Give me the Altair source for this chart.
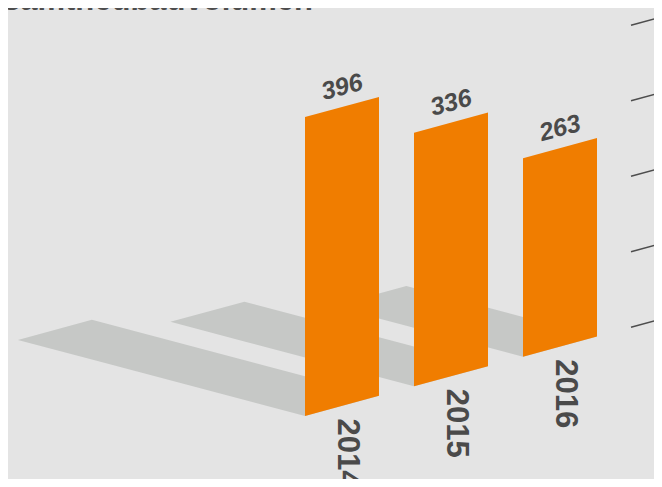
import altair as alt
import numpy as np
import pandas as pd

# ---- data ----
years = ["2014", "2015", "2016"]
values = [396, 336, 263]
ticks = [0, 100, 200, 300, 400]
title_text = "Gesamtneubauvolumen"

# ---- perspective geometry (screen pixel space) ----
X0, Y0 = 305, 416      # bottom-left corner of the first bar
STEP = 109             # horizontal distance between bars
SKEW = 0.272           # rise per px along baseline / bar faces
BAR_W = 74
K = 0.755              # px of height per unit
SH_LEN = 0.725         # horizontal shadow length per unit
SH_SLOPE = 0.265       # shadow direction slope
TICK_X = 631
TICK_LEN = 31

ORANGE = "#f07d00"
SHADOW = "#c6c8c6"
TEXT = "#4a4a4a"
BG = "#e4e4e4"
FONT = "Liberation Sans"

bar_rows, sh_rows, val_rows, yr_rows = [], [], [], []
for i, (yr, v) in enumerate(zip(years, values)):
    xl = X0 + STEP * i
    yl = Y0 - SKEW * STEP * i
    xr = xl + BAR_W
    yr_ = yl - SKEW * BAR_W
    h = K * v
    bar_rows += [dict(bar=yr, x=xl, y=yl, y2=yl - h), dict(bar=yr, x=xr, y=yr_, y2=yr_ - h)]
    # shadow parallelogram
    L = SH_LEN * v
    A = (xl - L, yl - SH_SLOPE * L)
    B = (A[0] + BAR_W, A[1] - SKEW * BAR_W)
    C = (xr, yr_)
    D = (xl, yl)
    xs = sorted([A[0], B[0], C[0], D[0]])
    for xv in xs:
        up = np.interp(xv, [A[0], B[0], C[0]], [A[1], B[1], C[1]])
        lo = np.interp(xv, [A[0], D[0], C[0]], [A[1], D[1], C[1]])
        sh_rows.append(dict(bar=yr, x=float(xv), y=float(up), y2=float(lo)))
    val_rows.append(dict(label=str(v), x=xl + BAR_W / 2, y=yl - SKEW * BAR_W / 2 - h - 20))
    yr_rows.append(dict(label=yr, x=xl + 42, y=yl + 37))

base_y = Y0 - SKEW * (TICK_X - X0)
tick_rows = [dict(x=TICK_X, y=base_y - K * t, x2=TICK_X + TICK_LEN,
                  y2=base_y - K * t - SKEW * TICK_LEN) for t in ticks]

xs_ = alt.Scale(domain=[8, 654])
ys_ = alt.Scale(domain=[8, 479], reverse=True)
X = alt.X("x:Q", scale=xs_, axis=None)
Y = alt.Y("y:Q", scale=ys_, axis=None, stack=None)

shadows = alt.Chart(pd.DataFrame(sh_rows)).mark_area(color=SHADOW, opacity=1).encode(
    x=X, y=Y, y2="y2:Q", detail="bar:N")
bars = alt.Chart(pd.DataFrame(bar_rows)).mark_area(color=ORANGE, opacity=1).encode(
    x=X, y=Y, y2="y2:Q", detail="bar:N")
tickmarks = alt.Chart(pd.DataFrame(tick_rows)).mark_rule(color="#4d4d4d", strokeWidth=1.5).encode(
    x=X, y=Y, x2="x2:Q", y2="y2:Q")
vals = alt.Chart(pd.DataFrame(val_rows)).mark_text(
    font=FONT, fontWeight="bold", fontStyle="italic", fontSize=25,
    color=TEXT, angle=345, align="center", baseline="middle").encode(x=X, y=Y, text="label:N")
yrs = alt.Chart(pd.DataFrame(yr_rows)).mark_text(
    font=FONT, fontWeight="bold", fontSize=31,
    color=TEXT, angle=90, align="center", baseline="middle").encode(x=X, y=Y, text="label:N")
title = alt.Chart(pd.DataFrame([dict(label=title_text, x=313, y=9.5)])).mark_text(
    font=FONT, fontWeight="bold", fontSize=31,
    color="#4d4d4d", align="right", baseline="alphabetic").encode(x=X, y=Y, text="label:N")

chart = alt.layer(shadows, bars, tickmarks, vals, yrs, title).properties(
    width=646, height=471, padding=0, autosize=alt.AutoSizeParams(type="none"),
    background=BG
).configure_view(stroke=None)

chart.save("out.html", embed_options={"renderer": "svg", "actions": False})
